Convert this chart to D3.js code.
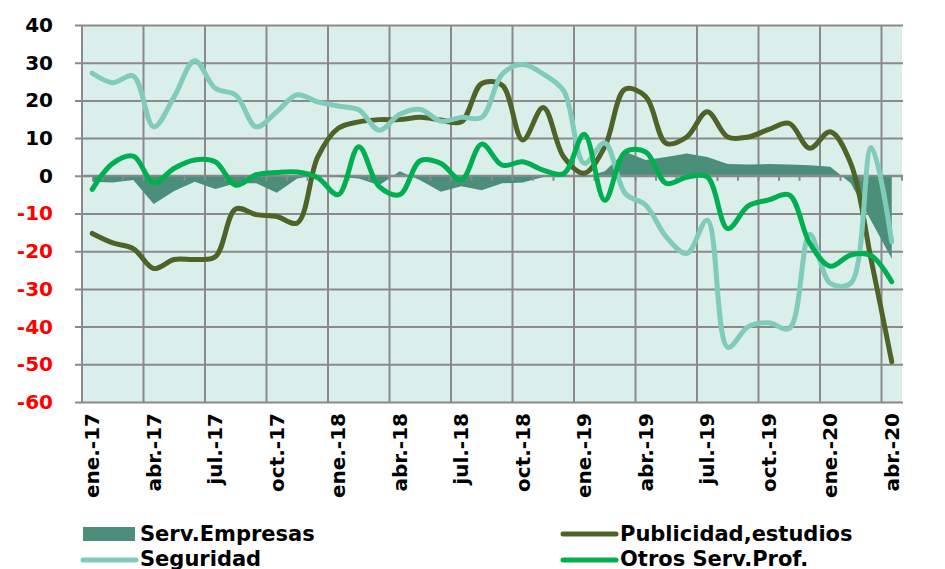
<!DOCTYPE html>
<html>
  <head>
    <meta charset="utf-8">
    <title>Servicios a empresas</title>
    <script src="https://cdn.jsdelivr.net/npm/d3@7"></script>
    <style>
      body { margin: 0; background: #ffffff; }
      text { font-family: 'DejaVu Sans', Verdana, sans-serif; font-weight: bold; }
    </style>
  </head>
  <body>
    <svg width="945" height="569" id="mainsvg"></svg>
    <script>
      // months ene.-17 .. abr.-20
      const months = [
        'ene.-17','feb.-17','mar.-17','abr.-17','may.-17','jun.-17','jul.-17','ago.-17','sep.-17','oct.-17','nov.-17','dic.-17',
        'ene.-18','feb.-18','mar.-18','abr.-18','may.-18','jun.-18','jul.-18','ago.-18','sep.-18','oct.-18','nov.-18','dic.-18',
        'ene.-19','feb.-19','mar.-19','abr.-19','may.-19','jun.-19','jul.-19','ago.-19','sep.-19','oct.-19','nov.-19','dic.-19',
        'ene.-20','feb.-20','mar.-20','abr.-20'
      ];
      const servEmpresas = [-1.6, -1.8, -1.1, -7.5, -4.0, -1.6, -3.5, -2.0, -2.0, -4.5, -0.7, 0.3,
                            -0.3, -0.7, -2.5, 1.2, -1.2, -4.2, -2.8, -3.8, -2.0, -1.8, -0.3, 0.2,
                            -0.4, 1.2, 6.4, 4.2, 5.0, 5.9, 5.0, 3.1, 3.0, 3.1, 3.0, 2.8,
                            2.4, -2.0, -12.0, -22.0];
      const publicidad = [-15.3, -17.8, -19.3, -24.6, -22.2, -22.2, -21.5, -8.8, -10.3, -10.8, -12.5, 5.0,
                          12.6, 14.3, 14.9, 14.9, 15.5, 14.8, 14.3, 24.5, 24.0, 9.5, 18.1, 5.0,
                          0.7, 7.7, 23.0, 21.0, 8.6, 10.3, 17.0, 10.3, 10.3, 12.3, 13.9, 7.3,
                          11.7, 3.3, -22.4, -49.3];
      const seguridad = [27.2, 24.7, 26.5, 13.0, 21.0, 30.5, 23.2, 21.4, 13.0, 17.0, 21.5, 19.6,
                         18.5, 17.5, 12.1, 16.3, 17.6, 14.5, 15.5, 15.5, 27.0, 29.5, 27.0, 22.5,
                         3.3, 8.7, -4.7, -7.8, -16.2, -20.6, -11.8, -45.5, -40.0, -39.0, -40.5, -15.5,
                         -28.5, -28.5, 7.5, -17.5];
      const otrosServ = [-3.6, 3.3, 5.2, -1.8, 2.0, 4.2, 3.7, -2.5, 0.3, 0.9, 1.0, -0.5,
                         -5.0, 7.7, -2.9, -5.0, 4.0, 3.3, -1.1, 8.4, 2.8, 3.7, 1.5, 0.6,
                         11.0, -6.5, 6.3, 6.3, -2.0, -0.4, -0.3, -14.0, -8.0, -6.4, -5.1, -17.9,
                         -24.0, -21.0, -21.2, -28.1];
      const yTicks = [40, 30, 20, 10, 0, -10, -20, -30, -40, -50, -60];

      const svg = d3.select('#mainsvg');
      const margin = {top: 25, right: 43, bottom: 167, left: 82};
      const width = +svg.attr('width');
      const height = +svg.attr('height');
      const innerWidth = width - margin.left - margin.right;
      const innerHeight = height - margin.top - margin.bottom;

      const xScale = d3.scaleBand().domain(months)
        .range([margin.left, margin.left + innerWidth]);
      const yScale = d3.scaleLinear().domain([-60, 40])
        .range([margin.top + innerHeight, margin.top]);
      const xMid = (d, i) => xScale(months[i]) + xScale.bandwidth() / 2;
      const x0 = margin.left, x1 = margin.left + innerWidth;

      const gridColor = '#8a8a8a';

      // plot background
      svg.append('rect')
        .attr('x', x0).attr('y', margin.top)
        .attr('width', innerWidth).attr('height', innerHeight)
        .attr('fill', '#daeeea');

      // y axis with horizontal gridlines (plain hyphen for negatives)
      const yAxis = d3.axisLeft(yScale).tickValues(yTicks)
        .tickSize(-(innerWidth + 8)).tickPadding(22).tickFormat(d => String(d));
      const yAxisGroup = svg.append('g')
        .attr('transform', `translate(${x0 - 7}, 0)`)
        .call(yAxis);
      yAxisGroup.select('.domain').remove();
      yAxisGroup.selectAll('line').attr('stroke', gridColor).attr('stroke-width', 2);
      yAxisGroup.selectAll('text')
        .attr('font-size', 20)
        .attr('fill', d => d < 0 ? '#ff0000' : '#000000');

      // vertical gridlines every 3 months
      const quarterMonths = months.filter((m, i) => i % 3 === 0);
      svg.append('g').selectAll('line').data(quarterMonths).join('line')
        .attr('x1', d => xScale(d)).attr('x2', d => xScale(d))
        .attr('y1', margin.top).attr('y2', margin.top + innerHeight)
        .attr('stroke', gridColor).attr('stroke-width', 2);

      // Serv.Empresas area
      const area = d3.area()
        .x(xMid)
        .y0(yScale(0))
        .y1(d => yScale(d));
      svg.append('path').datum(servEmpresas)
        .attr('fill', '#4b8f7b')
        .attr('d', area);

      // zero axis with small ticks
      svg.append('line')
        .attr('x1', x0).attr('x2', x1 + 1)
        .attr('y1', yScale(0)).attr('y2', yScale(0))
        .attr('stroke', gridColor).attr('stroke-width', 2);
      const tickXs = months.slice(1).map(m => xScale(m)).concat([x1]);
      svg.append('g').selectAll('line').data(tickXs).join('line')
        .attr('x1', d => d).attr('x2', d => d)
        .attr('y1', yScale(0)).attr('y2', yScale(0) + 5)
        .attr('stroke', gridColor).attr('stroke-width', 2);

      // smoothed lines
      const line = d3.line()
        .x(xMid)
        .y(d => yScale(d))
        .curve(d3.curveCatmullRom.alpha(0.5));
      const series = [
        {values: publicidad, color: '#4f6228'},
        {values: seguridad, color: '#80cbba'},
        {values: otrosServ, color: '#00b050'}
      ];
      series.forEach(s => {
        svg.append('path').datum(s.values)
          .attr('fill', 'none')
          .attr('stroke', s.color)
          .attr('stroke-width', 5)
          .attr('stroke-linecap', 'round')
          .attr('stroke-linejoin', 'round')
          .attr('d', line);
      });

      // x labels, rotated
      svg.append('g').selectAll('text').data(quarterMonths).join('text')
        .attr('transform', d => `translate(${xScale(d) + xScale.bandwidth() / 2}, ${margin.top + innerHeight + 11}) rotate(-90)`)
        .attr('text-anchor', 'end')
        .attr('dy', '0.36em')
        .attr('font-size', 20)
        .attr('fill', '#000')
        .text(d => d);

      // legend
      const legend = svg.append('g');
      legend.append('rect')
        .attr('x', 83).attr('y', 527).attr('width', 52).attr('height', 14)
        .attr('fill', '#4b8f7b');
      const legendLines = [
        {x: 563, y: 534, color: '#4f6228'},
        {x: 83, y: 560, color: '#80cbba'},
        {x: 563, y: 560, color: '#00b050'}
      ];
      legendLines.forEach(l => {
        legend.append('line')
          .attr('x1', l.x).attr('x2', l.x + 53)
          .attr('y1', l.y).attr('y2', l.y)
          .attr('stroke', l.color).attr('stroke-width', 5)
          .attr('stroke-linecap', 'round');
      });
      const legendTexts = [
        {x: 140, y: 541, t: 'Serv.Empresas'},
        {x: 620, y: 541, t: 'Publicidad,estudios'},
        {x: 140, y: 566, t: 'Seguridad'},
        {x: 620, y: 566, t: 'Otros Serv.Prof.'}
      ];
      legend.selectAll('text').data(legendTexts).join('text')
        .attr('x', d => d.x).attr('y', d => d.y)
        .attr('font-size', 21)
        .attr('fill', '#000')
        .text(d => d.t);
    </script>
  </body>
</html>
